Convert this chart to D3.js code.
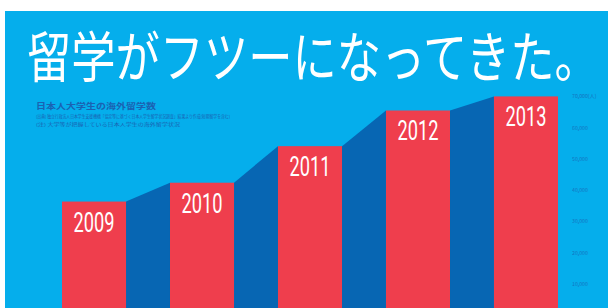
<!DOCTYPE html>
<html>
<head>
<meta charset="utf-8">
<script src="https://cdn.jsdelivr.net/npm/d3@7"></script>
<style>
  body { margin: 0; background: #fff; }
  svg { display: block; }
</style>
</head>
<body>
<svg id="chart" width="608" height="308"></svg>
<script>
// data
var years = ["2009", "2010", "2011", "2012", "2013"];
var students = [36302, 42320, 53991, 65373, 69869];
var tickValues = [10000, 20000, 30000, 40000, 50000, 60000, 70000];
var tickLabels = ["10,000", "20,000", "30,000", "40,000", "50,000", "60,000", "70,000(人)"];

var title = "留学がフツーになってきた。";
var subTitle = "日本人大学生の海外留学数";
var noteLines = [
  "(出典) 独立行政法人日本学生支援機構「協定等に基づく日本人学生留学状況調査」結果より作成(短期留学を含む)",
  "(注) 大学等が把握している日本人学生の海外留学状況"
];

var W = 608, H = 308;
var lightBlue = "#05aeec", darkBlue = "#0766b3", red = "#ef3e4d", inkBlue = "#1b62b2";

var svg = d3.select("#chart");

// blue panel
svg.append("rect").attr("x", 5).attr("y", 11).attr("width", W - 5).attr("height", H - 11)
  .attr("fill", lightBlue);

var x = d3.scaleBand().domain(years).range([62, 558]).paddingInner(0.407).paddingOuter(0);
var y = d3.scaleLinear().domain([0, 70000]).range([315.3, 96]);

var data = years.map(function(yr, i){ return { year: yr, value: students[i] }; });

// dark connectors between bars
var bands = svg.append("g");
for (var i = 0; i < data.length - 1; i++) {
  var a = data[i], b = data[i + 1];
  var x0 = x(a.year) + x.bandwidth(), x1 = x(b.year);
  bands.append("path")
    .attr("d", "M" + x0 + "," + y(a.value) + "L" + x1 + "," + y(b.value) +
      "L" + x1 + "," + H + "L" + x0 + "," + H + "Z")
    .attr("fill", darkBlue);
}

// bars
svg.append("g").selectAll("rect").data(data).enter().append("rect")
  .attr("x", function(d){ return x(d.year); })
  .attr("y", function(d){ return y(d.value); })
  .attr("width", x.bandwidth())
  .attr("height", function(d){ return H - y(d.value); })
  .attr("fill", red);

// year labels
svg.append("g").selectAll("text").data(data).enter().append("text")
  .attr("x", function(d){ return x(d.year) + x.bandwidth() / 2; })
  .attr("y", function(d){ return y(d.value) + 30; })
  .attr("text-anchor", "middle")
  .attr("font-family", "Roboto, 'DejaVu Sans', sans-serif")
  .attr("font-size", 28)
  .attr("textLength", 41)
  .attr("lengthAdjust", "spacingAndGlyphs")
  .attr("fill", "#fff")
  .text(function(d){ return d.year; });

// right axis
var axis = d3.axisRight(y).tickValues(tickValues)
  .tickFormat(function(d, i){ return tickLabels[i]; }).tickSize(0);
var ag = svg.append("g").attr("transform", "translate(569,0)").call(axis);
ag.select(".domain").remove();
ag.selectAll("text")
  .attr("font-family", "'Noto Sans CJK JP', sans-serif")
  .attr("font-size", 5.2)
  .attr("fill", inkBlue)
  .attr("opacity", 0.75);

// title, squeezed horizontally
var titleText = svg.append("text")
  .attr("x", 0).attr("y", 0)
  .attr("font-family", "'Noto Sans CJK JP', sans-serif")
  .attr("font-size", 55)
  .attr("font-weight", 400)
  .attr("fill", "#fff")
  .text(title);
var tw = titleText.node().getComputedTextLength();
titleText.attr("transform", "translate(27,77) scale(" + (572 / tw) + ",1)");

// subtitle and notes
svg.append("text")
  .attr("x", 36).attr("y", 109)
  .attr("font-family", "'Noto Sans CJK JP', sans-serif")
  .attr("font-size", 8)
  .attr("font-weight", 700)
  .attr("textLength", 120)
  .attr("lengthAdjust", "spacingAndGlyphs")
  .attr("fill", inkBlue)
  .text(subTitle);

svg.append("g").selectAll("text").data(noteLines).enter().append("text")
  .attr("x", 36)
  .attr("y", function(d, i){ return 118 + i * 8; })
  .attr("font-family", "'Noto Sans CJK JP', sans-serif")
  .attr("font-size", 4.2)
  .attr("textLength", function(d, i){ return i == 0 ? 194 : 144; })
  .attr("lengthAdjust", "spacingAndGlyphs")
  .attr("fill", inkBlue)
  .text(function(d){ return d; });
</script>
</body>
</html>
